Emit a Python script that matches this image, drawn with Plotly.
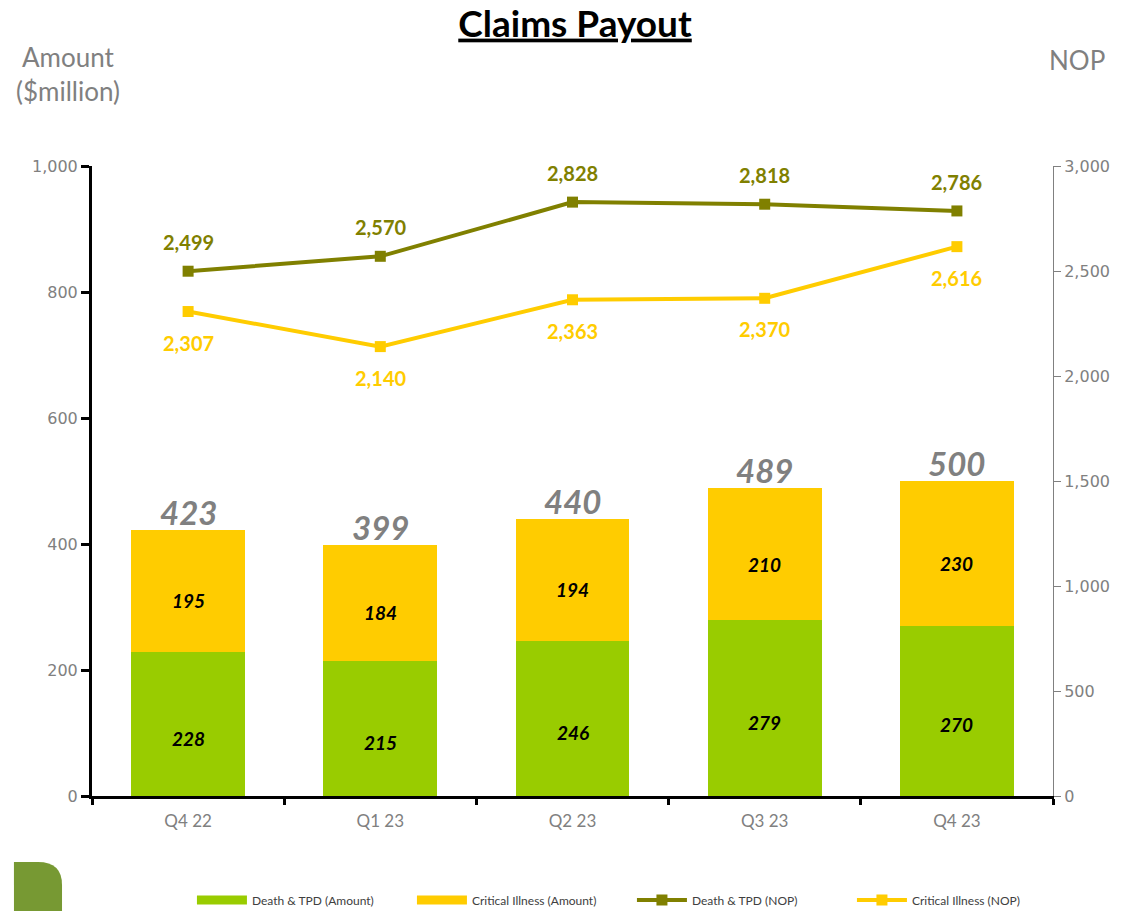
import plotly.graph_objects as go

quarters = ["Q4 22", "Q1 23", "Q2 23", "Q3 23", "Q4 23"]
death_amount = [228, 215, 246, 279, 270]
ci_amount = [195, 184, 194, 210, 230]
total_amount = [423, 399, 440, 489, 500]
death_nop = [2499, 2570, 2828, 2818, 2786]
ci_nop = [2307, 2140, 2363, 2370, 2616]

GREEN = "#99CC00"
YELLOW = "#FFCC00"
OLIVE = "#808000"
GRAY = "#808080"
FONT = "Lato, 'Open Sans', sans-serif"
TICKFONT = "'DejaVu Sans', sans-serif"

fig = go.Figure()
fig.add_trace(go.Bar(x=quarters, y=death_amount, name="Death & TPD (Amount)", showlegend=False,
                     marker=dict(color=GREEN, line=dict(width=0)), yaxis="y"))
fig.add_trace(go.Bar(x=quarters, y=ci_amount, name="Critical Illness (Amount)", showlegend=False,
                     marker=dict(color=YELLOW, line=dict(width=0)), yaxis="y"))
# legend swatches for the bar series (wide rectangles as in the reference)
fig.add_trace(go.Scatter(x=[None], y=[None], mode="lines", name="Death & TPD (Amount)",
                         line=dict(color=GREEN, width=9), hoverinfo="skip"))
fig.add_trace(go.Scatter(x=[None], y=[None], mode="lines", name="Critical Illness (Amount)",
                         line=dict(color=YELLOW, width=9), hoverinfo="skip"))
fig.add_trace(go.Scatter(x=quarters, y=death_nop, name="Death & TPD (NOP)", mode="lines+markers",
                         line=dict(color=OLIVE, width=4), marker=dict(symbol="square", size=11, color=OLIVE),
                         yaxis="y2", cliponaxis=False))
fig.add_trace(go.Scatter(x=quarters, y=ci_nop, name="Critical Illness (NOP)", mode="lines+markers",
                         line=dict(color=YELLOW, width=4), marker=dict(symbol="square", size=11, color=YELLOW),
                         yaxis="y2", cliponaxis=False))

annotations = []
for q, d, c, t in zip(quarters, death_amount, ci_amount, total_amount):
    annotations.append(dict(x=q, y=d / 2, text=f"<b><i>{d}</i></b>", showarrow=False, yshift=-14,
                            font=dict(family=FONT, size=19, color="black")))
    annotations.append(dict(x=q, y=d + c / 2, text=f"<b><i>{c}</i></b>", showarrow=False, yshift=-10,
                            font=dict(family=FONT, size=19, color="black")))
    annotations.append(dict(x=q, y=t, text=f"<b><i>{t}</i></b>", showarrow=False, yanchor="bottom", yshift=-4,
                            font=dict(family=FONT, size=33, color=GRAY)))

for q, dn, cn in zip(quarters, death_nop, ci_nop):
    annotations.append(dict(x=q, y=dn, yref="y2", text=f"<b>{dn:,}</b>", showarrow=False, yshift=29,
                            font=dict(family=FONT, size=20, color=OLIVE)))
    annotations.append(dict(x=q, y=cn, yref="y2", text=f"<b>{cn:,}</b>", showarrow=False, yshift=-31,
                            font=dict(family=FONT, size=20, color=YELLOW)))

annotations += [
    dict(xref="paper", yref="paper", x=-0.025, y=1.146, text="Amount<br>($million)", showarrow=False,
         xanchor="center", yanchor="middle", align="center", font=dict(family=FONT, size=26, color=GRAY)),
    dict(xref="paper", yref="paper", x=1.025, y=1.168, text="NOP", showarrow=False,
         xanchor="center", yanchor="middle", font=dict(family=FONT, size=26, color=GRAY)),
]

fig.update_layout(
    width=1114, height=903,
    margin=dict(l=84, r=69, t=158, b=115),
    paper_bgcolor="white", plot_bgcolor="white",
    barmode="stack", bargap=0.407,
    title=dict(text="<b><u>Claims Payout</u></b>", x=0.509, xanchor="center", y=0.997, yanchor="top",
               font=dict(family=FONT, size=37, color="black")),
    font=dict(family=FONT, color=GRAY),
    xaxis=dict(showline=True, linecolor="black", linewidth=3, ticks="outside", tickson="boundaries",
               tickcolor="black", tickwidth=3, ticklen=6, ticklabelstandoff=8,
               tickfont=dict(family=FONT, size=17, color=GRAY), showgrid=False),
    yaxis=dict(range=[0, 1000], dtick=200, tickformat=",", showline=True, linecolor="black", linewidth=3,
               ticks="outside", tickcolor="black", tickwidth=3, ticklen=8,
               tickfont=dict(family=TICKFONT, size=16, color=GRAY), showgrid=False, zeroline=False),
    yaxis2=dict(range=[0, 3000], dtick=500, tickformat=",", overlaying="y", side="right",
                showline=True, linecolor=GRAY, linewidth=1, ticks="outside", tickcolor=GRAY, ticklen=7,
                tickfont=dict(family=TICKFONT, size=16, color=GRAY), showgrid=False, zeroline=False),
    legend=dict(orientation="h", x=0.104, xanchor="left", yref="container", y=0.0122, yanchor="middle",
                font=dict(family=FONT, size=12, color="#404040"), itemwidth=50,
                traceorder="normal", entrywidth=155, entrywidthmode="pixels"),
    annotations=annotations,
    shapes=[
        dict(type="path", xref="paper", yref="paper",
             path="M -0.0812 -0.1952 L -0.0812 -0.1048 L -0.0562 -0.1048 Q -0.0312 -0.1048 -0.0312 -0.1413 L -0.0312 -0.1952 Z",
             fillcolor="#779933", line=dict(width=0)),
    ],
)

fig.write_html("out.html")
